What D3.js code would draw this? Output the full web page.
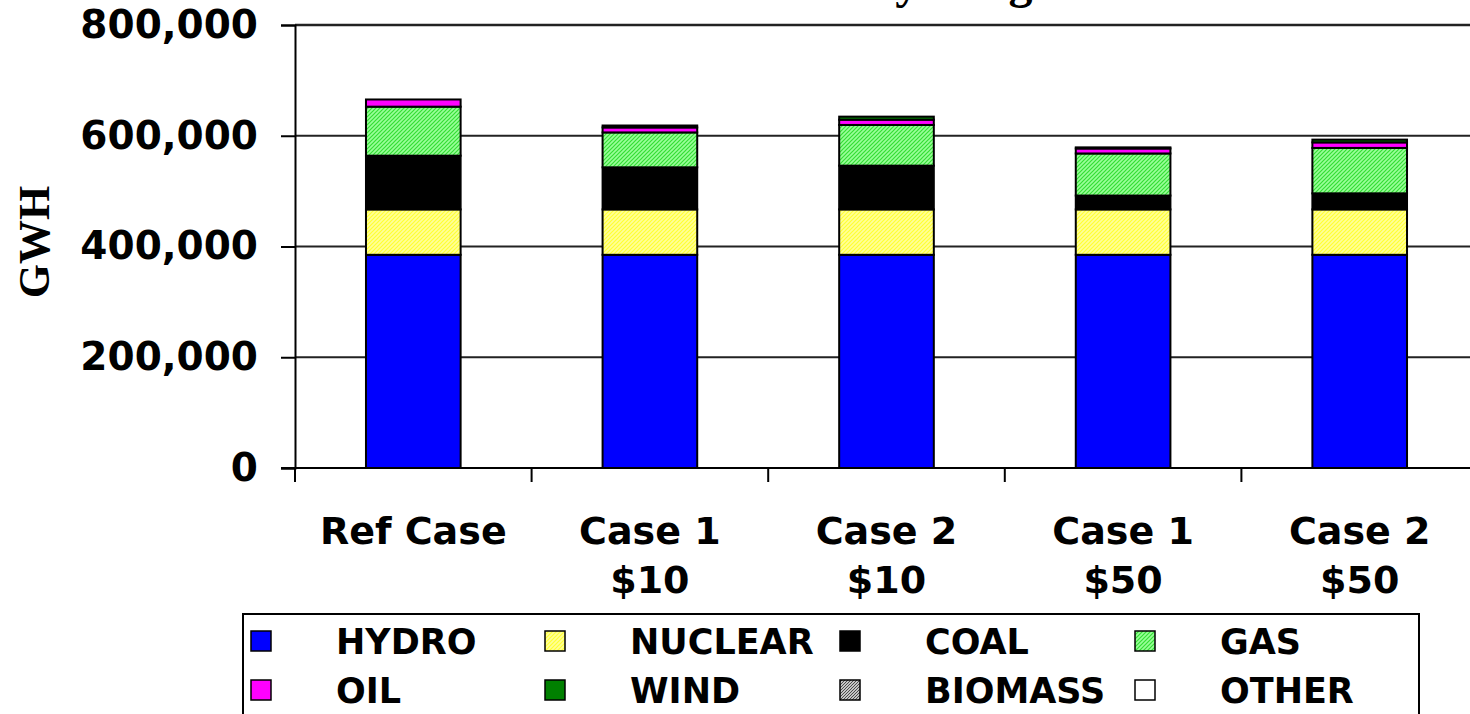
<!DOCTYPE html>
<html>
<head>
<meta charset="utf-8">
<script src="https://cdn.jsdelivr.net/npm/d3@7/dist/d3.min.js"></script>
<style>
  html, body { margin: 0; padding: 0; background: #fff; overflow: hidden; }
  svg { display: block; }
</style>
</head>
<body>
<script>
// --- data ---
const categories = [["Ref Case"], ["Case 1", "$10"], ["Case 2", "$10"], ["Case 1", "$50"], ["Case 2", "$50"]];
const sources = ["HYDRO", "NUCLEAR", "COAL", "GAS", "OIL", "WIND", "BIOMASS", "OTHER"];
const hydro   = [385000, 385000, 385000, 385000, 385000];
const nuclear = [82000, 82000, 82000, 82000, 82000];
const coal    = [97000, 76000, 79000, 25000, 29000];
const gas     = [88500, 63000, 73500, 76000, 82000];
const oil     = [13000, 9000, 9500, 9000, 10000];
const wind    = [0, 3500, 5500, 2000, 5000];
const biomass = [0, 0, 0, 0, 0];
const other   = [0, 0, 0, 0, 0];
const yTicks  = [0, 200000, 400000, 600000, 800000];

const W = 1470, H = 714;
const plot = { left: 295, right: 1478, top: 25, bottom: 468 };
const fontSans = '"DejaVu Sans", Verdana, sans-serif';
const fontSerif = '"Liberation Serif", "Times New Roman", serif';

const series = { HYDRO: hydro, NUCLEAR: nuclear, COAL: coal, GAS: gas, OIL: oil, WIND: wind, BIOMASS: biomass, OTHER: other };
const table = categories.map((c, i) => {
  const row = { cat: c.join(" ") };
  for (const k of sources) row[k] = series[k][i];
  return row;
});

const svg = d3.select("body").append("svg")
  .attr("width", W).attr("height", H);

// hatch patterns like the old office fills
const defs = svg.append("defs");
function hatch(id, bg, fg, size) {
  const p = defs.append("pattern")
    .attr("id", id).attr("patternUnits", "userSpaceOnUse")
    .attr("width", size).attr("height", size);
  p.append("rect").attr("width", size).attr("height", size).attr("fill", bg);
  p.append("path")
    .attr("d", `M0,${size} L${size},0 M${-size / 2},${size / 2} L${size / 2},${-size / 2} M${size / 2},${size * 1.5} L${size * 1.5},${size / 2}`)
    .attr("stroke", fg).attr("stroke-width", 1.2);
}
hatch("pNuclear", "#ffff99", "#ffff33", 4);
hatch("pGas", "#99ff99", "#33dd33", 4);
hatch("pBio", "#ffffff", "#444444", 3);

const fills = {
  HYDRO: "#0000ff", NUCLEAR: "url(#pNuclear)", COAL: "#000000", GAS: "url(#pGas)",
  OIL: "#ff00ff", WIND: "#008000", BIOMASS: "url(#pBio)", OTHER: "#ffffff"
};

const x = d3.scaleBand()
  .domain(table.map(d => d.cat))
  .range([plot.left, plot.right])
  .paddingInner(0.6).paddingOuter(0.3);

const y = d3.scaleLinear()
  .domain([0, 800000])
  .range([plot.bottom, plot.top]);

// title: sits above the frame in the reference, only its descenders show
svg.append("text")
  .attr("x", 880).attr("y", -2)
  .attr("text-anchor", "middle")
  .attr("font-family", fontSerif).attr("font-weight", "bold")
  .attr("font-size", 48)
  .text("Electricity Usage");

// gridlines
svg.append("g")
  .selectAll("line")
  .data(yTicks.filter(d => d > 0))
  .join("line")
  .attr("x1", plot.left).attr("x2", W)
  .attr("y1", d => y(d)).attr("y2", d => y(d))
  .attr("stroke", "#222").attr("stroke-width", d => d === 800000 ? 2.5 : 2);

// y axis
const yAxis = svg.append("g")
  .attr("transform", `translate(${plot.left},0)`)
  .call(d3.axisLeft(y).tickValues(yTicks).tickSize(14).tickPadding(23).tickFormat(d3.format(",")));
yAxis.select(".domain").attr("stroke", "#000").attr("stroke-width", 2);
yAxis.selectAll(".tick line").attr("stroke", "#000").attr("stroke-width", 2);
yAxis.selectAll(".tick text")
  .attr("font-family", fontSans).attr("font-weight", "bold")
  .attr("font-size", 39).attr("fill", "#000");

// stacked bars
const stack = d3.stack().keys(sources)(table);
svg.append("g")
  .selectAll("g")
  .data(stack)
  .join("g")
  .attr("fill", d => fills[d.key])
  .selectAll("rect")
  .data(d => d.filter(s => s[1] - s[0] > 0))
  .join("rect")
  .attr("x", d => x(d.data.cat))
  .attr("width", x.bandwidth())
  .attr("y", d => y(d[1]))
  .attr("height", d => y(d[0]) - y(d[1]))
  .attr("stroke", "#000").attr("stroke-width", 2);

// x axis line + category ticks
svg.append("line")
  .attr("x1", plot.left - 14).attr("x2", W)
  .attr("y1", plot.bottom).attr("y2", plot.bottom)
  .attr("stroke", "#000").attr("stroke-width", 2);
const step = x.step();
const boundaries = d3.range(table.length + 1).map(i => plot.left + i * step);
svg.append("g")
  .selectAll("line")
  .data(boundaries)
  .join("line")
  .attr("x1", d => d).attr("x2", d => d)
  .attr("y1", plot.bottom).attr("y2", plot.bottom + 14)
  .attr("stroke", "#000").attr("stroke-width", 2);

// category labels (two lines)
const catG = svg.append("g")
  .selectAll("text")
  .data(categories)
  .join("text")
  .attr("x", (d, i) => x(table[i].cat) + x.bandwidth() / 2)
  .attr("y", 544)
  .attr("text-anchor", "middle")
  .attr("font-family", fontSans).attr("font-weight", "bold")
  .attr("font-size", 38).attr("fill", "#000");
catG.selectAll("tspan")
  .data(d => d)
  .join("tspan")
  .attr("x", function () { return d3.select(this.parentNode).attr("x"); })
  .attr("dy", (d, i) => i === 0 ? 0 : 49)
  .text(d => d);

// y axis title
svg.append("text")
  .attr("transform", "translate(49,242) rotate(-90)")
  .attr("text-anchor", "middle")
  .attr("font-family", fontSerif).attr("font-weight", "bold")
  .attr("font-size", 44).attr("fill", "#000")
  .text("GWH");

// legend
const legend = svg.append("g");
legend.append("rect")
  .attr("x", 243).attr("y", 614)
  .attr("width", 1419 - 243).attr("height", 140)
  .attr("fill", "#fff").attr("stroke", "#000").attr("stroke-width", 2);
const colX = [261, 555, 850, 1145];
const rowY = [641, 690];
const items = legend.selectAll("g")
  .data(sources)
  .join("g")
  .attr("transform", (d, i) => `translate(${colX[i % 4]},${rowY[Math.floor(i / 4)]})`);
items.append("rect")
  .attr("x", -10).attr("y", -10).attr("width", 20).attr("height", 20)
  .attr("fill", d => fills[d]).attr("stroke", "#000").attr("stroke-width", 1.5);
items.append("text")
  .attr("x", 75).attr("y", 13)
  .attr("font-family", fontSans).attr("font-weight", "bold")
  .attr("font-size", 35).attr("fill", "#000")
  .text(d => d);
</script>
</body>
</html>
